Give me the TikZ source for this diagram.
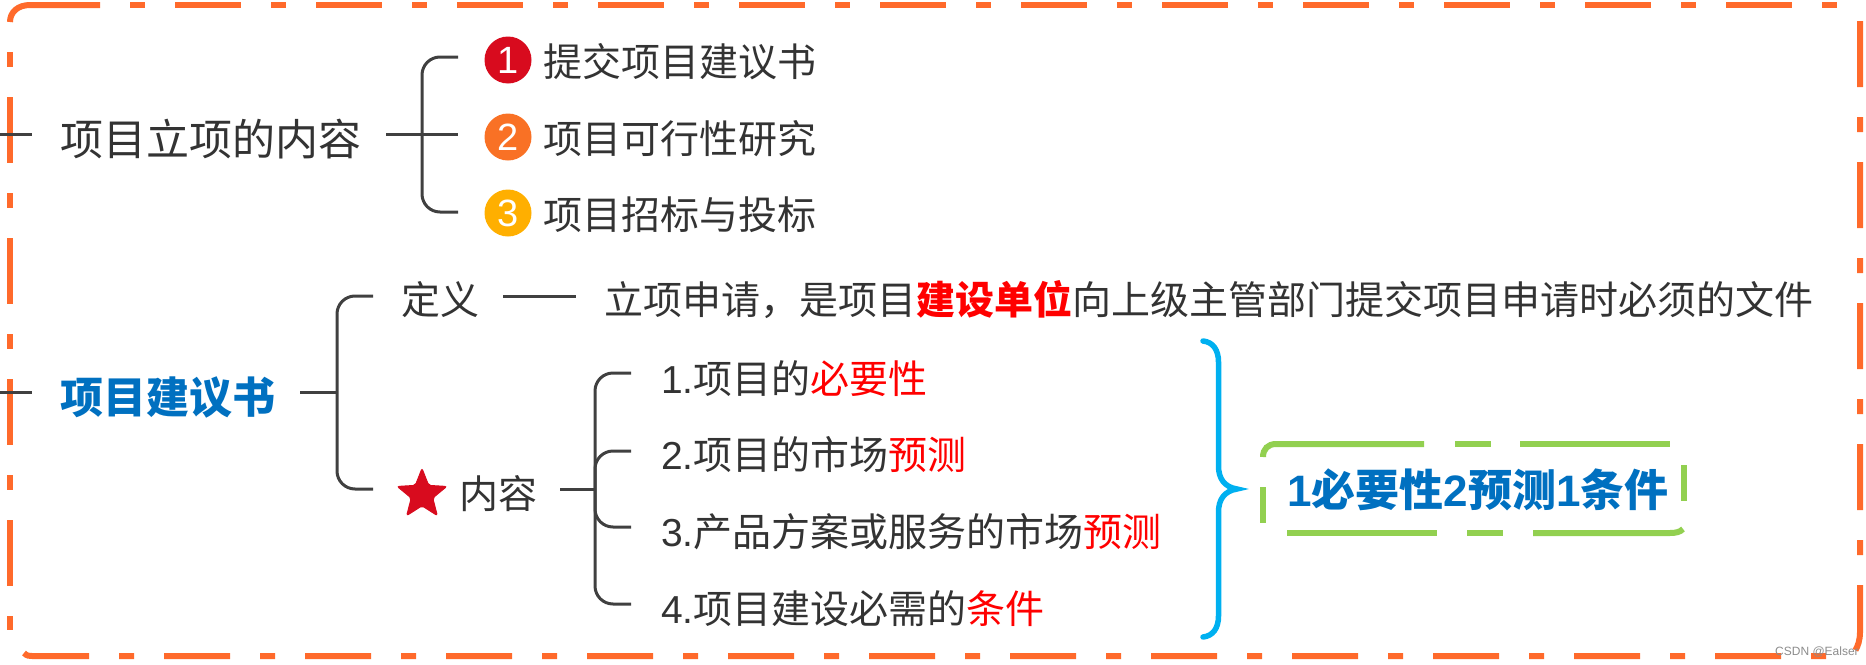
\documentclass[tikz,border=0pt]{standalone}
\usepackage{fontspec}
\usetikzlibrary{shapes.geometric}
\setmainfont{Noto Sans CJK SC}
\newfontfamily\lat{Liberation Sans}
\definecolor{ink}{HTML}{333333}
\definecolor{wire}{HTML}{404040}
\definecolor{framec}{HTML}{FF6A2B}
\definecolor{cred}{HTML}{D80B1E}
\definecolor{corange}{HTML}{F97125}
\definecolor{cyellow}{HTML}{FFAF00}
\definecolor{blueT}{HTML}{0070C0}
\definecolor{bracec}{HTML}{00B0F0}
\definecolor{greenc}{HTML}{92D050}
\definecolor{hot}{HTML}{FF0000}
\newcommand{\hl}[1]{\textcolor{hot}{#1}}
\tikzset{
  x=1pt,y=-1pt,
  framedash/.style={draw=framec,line width=6pt,line cap=butt},
  fa/.style={framedash,dash pattern=on 15pt off 30pt on 66pt off 30pt},
  fb/.style={framedash,dash pattern=on 66pt off 30pt on 15pt off 30pt},
  conn/.style={draw=wire,line width=3pt,rounded corners=18pt},
  txt/.style={anchor=base west,inner sep=0pt,text=ink,font=\fontsize{39}{47}\selectfont},
  big/.style={anchor=base west,inner sep=0pt,text=ink,font=\fontsize{43}{52}\selectfont},
  num/.style={circle,inner sep=0pt,minimum size=47pt,text=white,font=\lat\fontsize{38}{42}\selectfont},
  grn/.style={draw=greenc,line width=6pt,line cap=butt},
}
\begin{document}
\begin{tikzpicture}
\useasboundingbox (0,0) rectangle (1866,664);
% frame
\draw[framedash] (10,22) .. controls (10,12) and (18,5) .. (30,5) -- (100,5);
\draw[fa] (130,5) -- (1840,5);
\draw[fa] (10,52) -- (10,630);
\draw[fb] (1860,21) -- (1860,632) .. controls (1860,640) and (1858,646) .. (1855,651);
\draw[fb] (24,653) .. controls (27,656) and (29,656) .. (32,656) -- (1827,656);
% coordinates
\coordinate (tickA0) at (0,134);   \coordinate (tickA1) at (32,134);
\coordinate (rootAe) at (386,134); \coordinate (barA) at (422,134);
\coordinate (bA1) at (458,57);     \coordinate (bA2) at (458,134); \coordinate (bA3) at (458,212);
\coordinate (tickB0) at (0,392);   \coordinate (tickB1) at (32,392);
\coordinate (rootBe) at (300,392); \coordinate (barB) at (337,392);
\coordinate (bB1) at (373,296);    \coordinate (bB2) at (373,489);
\coordinate (defL) at (503,296);   \coordinate (defR) at (576,296);
\coordinate (contE) at (560,489);  \coordinate (barC) at (595,489);
\coordinate (bC1) at (631,373);    \coordinate (bC2) at (631,451);
\coordinate (bC3) at (631,527);    \coordinate (bC4) at (631,604);
% group A
\draw[conn] (tickA0) -- (tickA1);
\node[big] (rootA) at (60,155.5) {项目立项的内容};
\draw[conn] (rootAe) -- (bA2);
\draw[conn] (bA1) -| (barA) |- (bA3);
\node[num,fill=cred] (n1) at (508,60) {1};
\node[num,fill=corange] (n2) at (508,137) {2};
\node[num,fill=cyellow] (n3) at (508,213) {3};
\node[txt] (a1) at (543,76) {提交项目建议书};
\node[txt] (a2) at (543,153) {项目可行性研究};
\node[txt] (a3) at (543,229.5) {项目招标与投标};
% group B
\draw[conn] (tickB0) -- (tickB1);
\node[big,text=blueT,font=\fontsize{43}{52}\selectfont\bfseries] (rootB) at (60,413) {项目建议书};
\draw[conn] (rootBe) -- (barB);
\draw[conn] (bB1) -| (barB) |- (bB2);
\node[txt] (def) at (401,314) {定义};
\draw[conn] (defL) -- (defR);
\node[txt] (deft) at (604,314) {立项申请，是项目\hl{\bfseries 建设单位}向上级主管部门提交项目申请时必须的文件};
\node[star,star points=5,star point ratio=2.3,fill=cred,draw=cred,line width=1pt,rounded corners=2pt,inner sep=0pt,minimum size=52pt] (star) at (422,494.5) {};
\node[txt] (cont) at (459,508.5) {内容};
\draw[conn] (contE) -- (barC);
\draw[conn] (bC1) -| (barC) |- (bC4);
\draw[conn] (bC2) -| (barC) |- (bC3);
\node[txt] (c1) at (661,393) {{\lat 1.}项目的\hl{必要性}};
\node[txt] (c2) at (661,469) {{\lat 2.}项目的市场\hl{预测}};
\node[txt] (c3) at (661,546.8) {{\lat 3.}产品方案或服务的市场\hl{预测}};
\node[txt] (c4) at (661,623.5) {{\lat 4.}项目建设必需的\hl{条件}};
% brace
\draw[draw=bracec,line width=5.5pt,line cap=round] (1203,341) .. controls (1213,342) and (1218.5,350) .. (1218.5,362) -- (1218.5,466) .. controls (1218.5,478) and (1224,487) .. (1237,489) .. controls (1224,491) and (1218.5,500) .. (1218.5,512) -- (1218.5,616) .. controls (1218.5,628) and (1213,636) .. (1203,637);
% green box
\draw[grn] (1263,457) .. controls (1263,449) and (1268,444) .. (1276,444) -- (1424,444);
\draw[grn] (1455,444) -- (1491,444);
\draw[grn] (1520,444) -- (1670,444);
\draw[grn] (1684,465) -- (1684,501);
\draw[grn] (1263,487) -- (1263,523);
\draw[grn] (1287,533) -- (1437,533);
\draw[grn] (1467,533) -- (1503,533);
\draw[grn] (1533,533) -- (1670,533) .. controls (1676,533) and (1680,532) .. (1683,529);
\node[anchor=base west,inner sep=0pt,text=blueT,font=\fontsize{44}{52}\selectfont\bfseries] (sum) at (1287,506) {{\lat\bfseries 1}必要性{\lat\bfseries 2}预测{\lat\bfseries 1}条件};
\node[anchor=base west,inner sep=0pt,text=black!45,font=\lat\fontsize{12}{14}\selectfont] (wm) at (1775,655) {CSDN @Ealser};
\end{tikzpicture}
\end{document}
